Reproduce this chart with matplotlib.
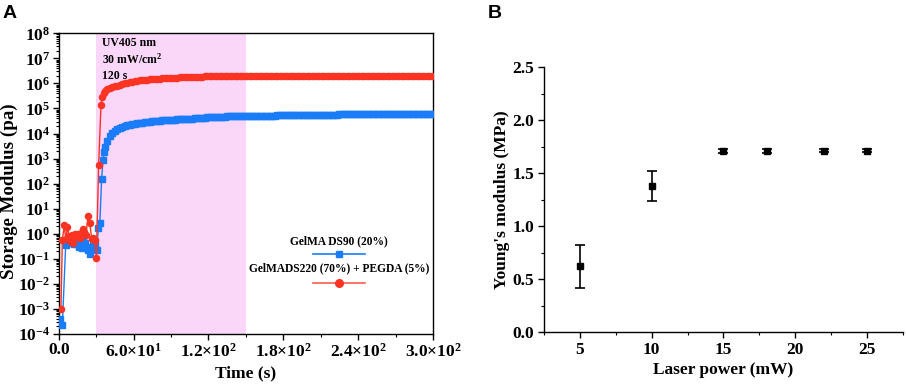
import numpy as np
import matplotlib
matplotlib.use("Agg")
import matplotlib.pyplot as plt
from matplotlib.ticker import FixedLocator, FuncFormatter, LogLocator, NullFormatter, MultipleLocator

plt.rcParams['font.family'] = ['Liberation Serif', 'DejaVu Serif']
plt.rcParams['font.weight'] = 'bold'
plt.rcParams['mathtext.fontset'] = 'custom'
plt.rcParams['mathtext.rm'] = 'Liberation Serif:bold'
plt.rcParams['mathtext.bf'] = 'Liberation Serif:bold'
plt.rcParams['mathtext.it'] = 'Liberation Serif:bold:italic'

# ---------------- Panel A data ----------------
slow_time = [39, 41, 43, 45, 47, 49, 51, 53, 55, 57, 59, 61, 63, 65, 67, 69, 71, 73, 75, 77,
             79, 81, 83, 85, 87, 89, 91, 93, 95, 97, 99, 101, 103, 105, 107, 109, 111, 113,
             115, 117, 119, 121, 123, 125, 127, 129, 131, 133, 135, 137, 139, 141, 143, 145,
             147, 149, 151, 153, 155, 157, 159, 161, 163, 165, 167, 169, 171, 173, 175, 177,
             179, 181, 183, 185, 187, 189, 191, 193, 195, 197, 199, 201, 203, 205, 207, 209,
             211, 213, 215, 217, 219, 221, 223, 225, 227, 229, 231, 233, 235, 237, 239, 241,
             243, 245, 247, 249, 251, 253, 255, 257, 259, 261, 263, 265, 267, 269, 271, 273,
             275, 277, 279, 281, 283, 285, 287, 289, 291, 293, 295, 297, 299]

time_blue = [1.0, 2.9, 5.6, 7.0, 8.2, 9.5, 10.8, 12.0, 13.3, 14.6, 15.9, 17.2, 18.5, 19.8,
             21.0, 22.3, 23.6, 25.0, 26.3, 27.6, 28.9, 30.3, 31.8, 33.0, 34.4, 35.5, 36.5,
             37.5] + slow_time
modulus_blue = [4.0e-4, 2.2e-4, 0.35, 0.45, 0.6, 0.42, 0.5, 0.4, 0.45, 0.38, 0.3, 0.45, 0.28, 0.55,
                0.42, 0.28, 0.23, 0.16, 0.3, 0.35, 0.4, 0.22, 1.7, 2.8, 1.6e2, 8.5e2, 1.8e3,
                3.0e3,
                5.0e3, 8.0e3, 1.07e4, 1.3e4, 1.5e4, 1.65e4, 1.8e4, 1.95e4, 2.1e4, 2.25e4,
                2.35e4, 2.45e4, 2.55e4, 2.65e4, 2.75e4, 2.85e4, 2.95e4, 3.0e4, 3.1e4, 3.15e4,
                3.2e4, 3.28e4, 3.35e4, 3.4e4, 3.45e4, 3.5e4, 3.55e4, 3.6e4, 3.65e4, 3.7e4,
                3.75e4, 3.8e4, 3.85e4, 3.9e4, 3.95e4, 4.0e4, 4.08e4, 4.15e4, 4.22e4, 4.3e4,
                4.38e4, 4.45e4, 4.5e4, 4.55e4, 4.6e4, 4.65e4, 4.7e4, 4.75e4, 4.8e4, 4.83e4,
                4.86e4, 4.9e4, 4.93e4, 4.96e4, 4.98e4, 5.0e4,
                5.02e4, 5.04e4, 5.06e4, 5.08e4, 5.10e4, 5.12e4, 5.14e4, 5.16e4, 5.18e4, 5.20e4,
                5.22e4, 5.24e4, 5.26e4, 5.28e4, 5.30e4, 5.32e4, 5.34e4, 5.36e4, 5.38e4, 5.40e4,
                5.42e4, 5.44e4, 5.46e4, 5.48e4, 5.50e4, 5.52e4, 5.54e4, 5.56e4, 5.58e4, 5.60e4,
                5.62e4, 5.64e4, 5.66e4, 5.68e4, 5.70e4, 5.72e4, 5.74e4, 5.76e4, 5.78e4, 5.80e4,
                5.81e4, 5.82e4, 5.84e4, 5.85e4, 5.86e4, 5.88e4, 5.89e4, 5.90e4, 5.92e4, 5.93e4,
                5.94e4, 5.96e4, 5.97e4, 5.98e4, 6.00e4, 6.01e4, 6.02e4, 6.04e4, 6.05e4, 6.06e4,
                6.08e4, 6.09e4, 6.10e4, 6.12e4, 6.13e4, 6.14e4, 6.16e4, 6.17e4, 6.18e4, 6.20e4,
                6.21e4, 6.22e4, 6.24e4, 6.25e4, 6.27e4]

time_red = [1.8, 2.9, 4.5, 5.6, 7.0, 8.2, 9.5, 10.6, 11.7, 13.0, 14.2, 15.5, 16.8, 18.0,
            19.3, 20.5, 21.8, 23.5, 25.0, 26.5, 27.8, 29.0, 30.2, 32.0, 33.9, 35.0, 36.0,
            37.0] + slow_time
modulus_red = [1.0e-3, 0.55, 2.2, 0.6, 1.8, 0.85, 0.45, 0.9, 0.42, 1.0, 0.75, 0.95, 0.7, 1.1,
               1.5, 1.2, 0.9, 4.9, 2.6, 0.6, 0.65, 0.55, 0.11, 5.4e2, 1.4e5, 3.0e5, 4.2e5,
               5.0e5,
               5.8e5, 6.3e5, 7.0e5, 7.6e5, 8.2e5, 8.9e5, 9.5e5, 1.02e6, 1.07e6, 1.12e6,
               1.18e6, 1.22e6, 1.27e6, 1.31e6, 1.35e6, 1.38e6, 1.42e6, 1.45e6, 1.48e6, 1.51e6,
               1.54e6, 1.56e6, 1.59e6, 1.61e6, 1.64e6, 1.66e6, 1.68e6, 1.70e6, 1.72e6, 1.74e6,
               1.76e6, 1.78e6, 1.80e6, 1.82e6, 1.83e6, 1.85e6, 1.86e6, 1.87e6, 1.88e6, 1.89e6,
               1.90e6, 1.91e6, 1.92e6, 1.93e6, 1.94e6, 1.95e6, 1.95e6, 1.96e6, 1.96e6, 1.97e6,
               1.97e6, 1.98e6, 1.98e6, 1.99e6, 1.99e6, 2.0e6,
               2.0e6, 2.0e6, 2.0e6, 2.0e6, 2.0e6, 2.0e6, 2.0e6, 2.0e6, 2.0e6, 2.0e6,
               2.0e6, 2.0e6, 2.0e6, 2.0e6, 2.0e6, 2.0e6, 2.0e6, 2.0e6, 2.0e6, 2.0e6,
               2.0e6, 2.0e6, 2.0e6, 2.0e6, 2.0e6, 2.0e6, 2.0e6, 2.0e6, 2.0e6, 2.0e6,
               2.0e6, 2.0e6, 2.0e6, 2.0e6, 2.0e6, 2.0e6, 2.0e6, 2.0e6, 2.0e6, 2.0e6,
               2.0e6, 2.0e6, 2.0e6, 2.0e6, 2.0e6, 2.0e6, 2.0e6, 2.0e6, 2.0e6, 2.0e6,
               2.0e6, 2.0e6, 2.0e6, 2.0e6, 2.0e6, 2.0e6, 2.0e6, 2.0e6, 2.0e6, 2.0e6,
               2.0e6, 2.0e6, 2.0e6, 2.0e6, 2.0e6, 2.0e6, 2.0e6, 2.0e6, 2.0e6, 2.0e6,
               2.0e6, 2.0e6, 2.0e6, 2.0e6, 2.0e6]

uv_window = [30, 150]
label_blue = "GelMA DS90 (20%)"
label_red = "GelMADS220 (70%) + PEGDA (5%)"
x_ticks_a = [0, 60, 120, 180, 240, 300]
x_ticklabels_a = ["0.0", "6.0×10$^{1}$", "1.2×10$^{2}$", "1.8×10$^{2}$",
                  "2.4×10$^{2}$", "3.0×10$^{2}$"]

# ---------------- Panel B data ----------------
laser_power = [5, 10, 15, 18, 22, 25]
youngs_modulus = [0.62, 1.38, 1.71, 1.71, 1.71, 1.71]
youngs_err = [0.205, 0.14, 0.02, 0.02, 0.015, 0.015]

BLUE = '#1a7cf8'
RED = '#fb3323'
PINK = '#fad6f8'

fig = plt.figure(figsize=(9.06, 3.9), dpi=100)

# ---------- Panel A ----------
axA = fig.add_axes([0.0648, 0.1436, 0.4131, 0.7710])
axA.axvspan(uv_window[0], uv_window[1], color=PINK, lw=0, zorder=0)
axA.plot(time_blue, modulus_blue, color=BLUE, lw=1.0, marker='s', ms=4.0, mec=BLUE,
         mfc=BLUE, zorder=3)
axA.plot(time_red, modulus_red, color=RED, lw=1.0, marker='o', ms=4.4, mec=RED,
         mfc=RED, zorder=4)
axA.set_yscale('log')
axA.set_xlim(0, 300)
axA.set_ylim(1e-4, 1e8)
axA.xaxis.set_major_locator(FixedLocator(x_ticks_a))
axA.set_xticklabels(x_ticklabels_a)
axA.xaxis.set_minor_locator(MultipleLocator(30))
axA.yaxis.set_major_locator(LogLocator(base=10, numticks=20))
axA.yaxis.set_minor_locator(LogLocator(base=10, subs=np.arange(2, 10), numticks=20))
axA.yaxis.set_minor_formatter(NullFormatter())
axA.yaxis.set_major_formatter(FuncFormatter(lambda v, p: "10$^{%d}$" % int(round(np.log10(v)))))
axA.tick_params(which='major', direction='out', length=4, width=1.0, labelsize=12.5,
                top=False, right=False, pad=2)
axA.tick_params(which='minor', direction='out', length=2, width=0.8, top=False, right=False)
for s in axA.spines.values():
    s.set_linewidth(1.0)
axA.set_xlabel("Time (s)", fontsize=12.5, fontweight='bold', labelpad=4)
axA.set_ylabel("Storage Modulus (pa)", fontsize=13.6, fontweight='bold')
axA.yaxis.set_label_coords(-0.110, 0.476)

# UV annotation
axA.text(0.115, 0.968, "UV405 nm", transform=axA.transAxes, fontsize=8.5,
         fontweight='bold', va='center', ha='left')
axA.text(0.115, 0.912, r"30 mW/cm$^{2}$", transform=axA.transAxes, fontsize=8.5,
         fontweight='bold', va='center', ha='left')
axA.text(0.115, 0.858, "120 s", transform=axA.transAxes, fontsize=8.5,
         fontweight='bold', va='center', ha='left')

# legend (Origin style: text above handle)
axA.text(0.749, 0.307, label_blue, transform=axA.transAxes, fontsize=8.3,
         fontweight='bold', ha='center', va='center')
axA.plot([0.679, 0.818], [0.266, 0.266], transform=axA.transAxes, color=BLUE, lw=1.2)
axA.plot([0.749], [0.266], transform=axA.transAxes, color=BLUE, marker='s', ms=5)
axA.text(0.749, 0.218, label_red, transform=axA.transAxes, fontsize=8.3,
         fontweight='bold', ha='center', va='center')
axA.plot([0.679, 0.818], [0.171, 0.171], transform=axA.transAxes, color=RED, lw=1.2,
         alpha=0.8)
axA.plot([0.749], [0.171], transform=axA.transAxes, color=RED, marker='o', ms=5.5)

# ---------- Panel B ----------
axB = fig.add_axes([0.6004, 0.1487, 0.3963, 0.6795])
axB.errorbar(laser_power, youngs_modulus, yerr=youngs_err, fmt='s', color='black',
             ms=4, capsize=3.5, elinewidth=1.2, capthick=1.2)
axB.set_xlim(2.5, 27.5)
axB.set_ylim(0, 2.5)
axB.xaxis.set_major_locator(MultipleLocator(5))
axB.xaxis.set_minor_locator(MultipleLocator(2.5))
axB.yaxis.set_major_locator(MultipleLocator(0.5))
axB.yaxis.set_minor_locator(MultipleLocator(0.25))
axB.yaxis.set_major_formatter(FuncFormatter(lambda v, p: "%.1f" % v))
axB.spines['top'].set_visible(False)
axB.spines['right'].set_visible(False)
for s in ['left', 'bottom']:
    axB.spines[s].set_linewidth(1.0)
axB.tick_params(which='major', direction='out', length=4, width=1.0, labelsize=12.5, pad=3)
axB.tick_params(which='minor', direction='out', length=2, width=0.8)
axB.set_xlabel("Laser power (mW)", fontsize=12.5, fontweight='bold', labelpad=3)
axB.set_ylabel("Young's modulus (MPa)", fontsize=12.5, fontweight='bold')
axB.yaxis.set_label_coords(-0.095, 0.5)

# panel letters
fig.text(0.003, 0.965, "A", fontsize=14, fontweight='bold', family='Liberation Sans',
         ha='left', va='center')
fig.text(0.538, 0.965, "B", fontsize=14, fontweight='bold', family='Liberation Sans',
         ha='left', va='center')

fig.savefig("out.png", dpi=100)
